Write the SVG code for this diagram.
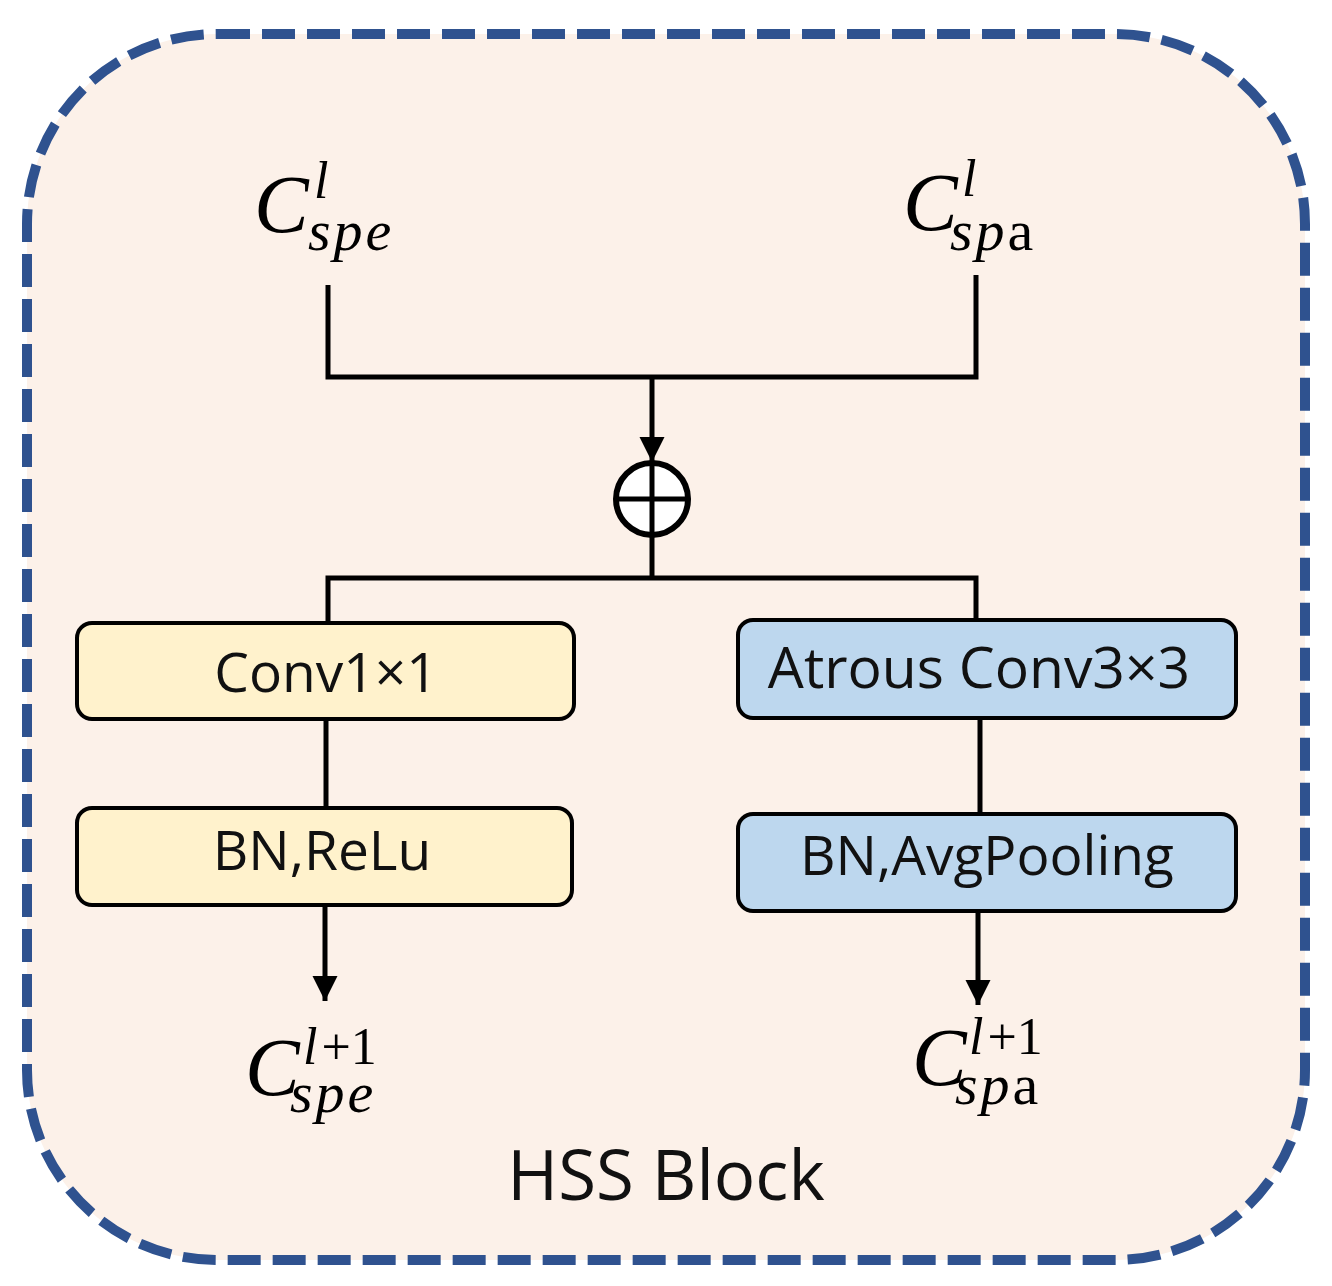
<svg xmlns="http://www.w3.org/2000/svg" width="1332" height="1286" viewBox="0 0 1332 1286">
<style>
.ln{fill:none;stroke:#000;stroke-width:5}
.box{stroke:#000;stroke-width:4}
.lbl{font-family:"Open Sans","Liberation Sans",sans-serif;font-size:55px;fill:#111;text-anchor:middle}
.m{font-family:"Liberation Serif","DejaVu Serif",serif;font-style:italic;fill:#000}
.big{font-size:82px}
.sup{font-size:52px}
.sub{font-size:58px;letter-spacing:3px}
.up{font-style:normal}
</style>
<defs>
<marker id="arr" viewBox="0 0 10 10" refX="10" refY="5" markerWidth="5" markerHeight="5.5" markerUnits="strokeWidth" orient="auto">
<path d="M0,0 L10,5 L0,10 z" fill="#000"/>
</marker>
</defs>
<g id="frame">
<rect x="27" y="34" width="1278" height="1226" rx="190" ry="190" fill="#FCF1E9" stroke="#2F528F" stroke-width="10" stroke-dasharray="33 12"/>
</g>
<g id="connectors">
<polyline class="ln" points="328,285 328,377 976,377 976,275"/>
<line class="ln" x1="652" y1="377" x2="652" y2="462" marker-end="url(#arr)"/>
<line class="ln" x1="652" y1="537" x2="652" y2="578"/>
<polyline class="ln" points="328,623 328,578 976,578 976,620"/>
<line class="ln" x1="326" y1="719" x2="326" y2="808"/>
<line class="ln" x1="980" y1="718" x2="980" y2="814"/>
<line class="ln" x1="325" y1="905" x2="325" y2="1001" marker-end="url(#arr)"/>
<line class="ln" x1="978" y1="911" x2="978" y2="1005" marker-end="url(#arr)"/>
</g>
<g id="in-spe">
<text class="m"><tspan class="big" x="254" y="232">C</tspan><tspan class="sup" x="314" y="198">l</tspan><tspan class="sub" x="308" y="250">spe</tspan></text>
</g>
<g id="in-spa">
<text class="m"><tspan class="big" x="903" y="230">C</tspan><tspan class="sup" x="962" y="196">l</tspan><tspan class="sub" x="950" y="250">sp</tspan><tspan class="sub up">a</tspan></text>
</g>
<g id="add">
<circle cx="652" cy="499" r="36" fill="#fff" stroke="#000" stroke-width="6"/>
<line class="ln" x1="616" y1="499" x2="688" y2="499"/>
<line class="ln" x1="652" y1="463" x2="652" y2="535"/>
</g>
<g id="conv1">
<rect class="box" x="77" y="623" width="497" height="96" rx="15" fill="#FFF2CC"/>
<text class="lbl" x="326" y="692">Conv1×1</text>
</g>
<g id="bnrelu">
<rect class="box" x="77" y="808" width="495" height="97" rx="15" fill="#FFF2CC"/>
<text class="lbl" x="322" y="870">BN,ReLu</text>
</g>
<g id="atrous">
<rect class="box" x="738" y="620" width="498" height="98" rx="15" fill="#BDD7EE"/>
<text class="lbl" x="979" y="688" style="font-size:57px">Atrous Conv3×3</text>
</g>
<g id="bnavg">
<rect class="box" x="738" y="814" width="498" height="97" rx="15" fill="#BDD7EE"/>
<text class="lbl" x="987" y="875">BN,AvgPooling</text>
</g>
<g id="out-spe">
<text class="m"><tspan class="big" x="245" y="1095">C</tspan><tspan class="sup" x="303" y="1064">l</tspan><tspan class="sup up" dx="4">+1</tspan><tspan class="sub" x="290" y="1112">spe</tspan></text>
</g>
<g id="out-spa">
<text class="m"><tspan class="big" x="912" y="1085">C</tspan><tspan class="sup" x="969" y="1054">l</tspan><tspan class="sup up" dx="4">+1</tspan><tspan class="sub" x="955" y="1104">sp</tspan><tspan class="sub up">a</tspan></text>
</g>
<g id="title">
<text class="lbl" x="666" y="1200" style="font-size:69px">HSS Block</text>
</g>
</svg>
